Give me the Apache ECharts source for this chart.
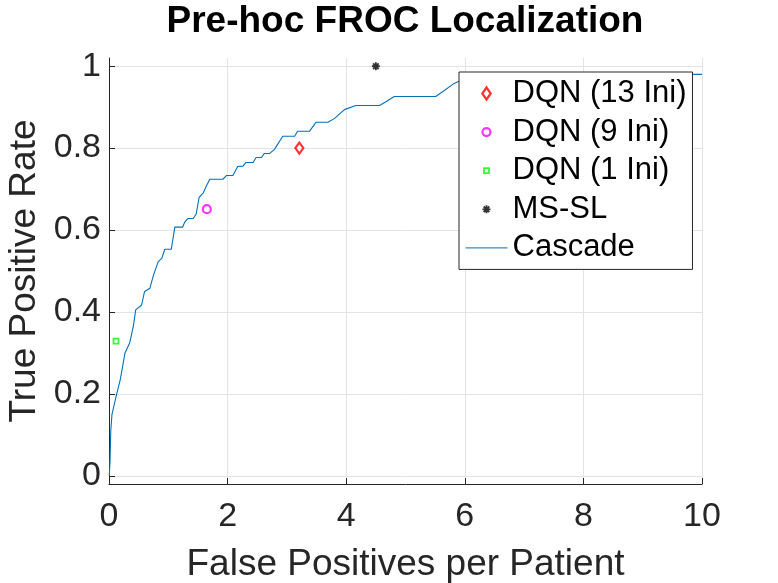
<!DOCTYPE html>
<html>
<head>
<meta charset="utf-8">
<script src="https://cdn.jsdelivr.net/npm/echarts@6/dist/echarts.min.js"></script>
<style>
  html, body { margin: 0; padding: 0; background: #fff; }
  #chart { width: 778px; height: 583px; }
</style>
</head>
<body>
<div id="chart"></div>
<script>
// ---- data ----
var xTicks = [0, 2, 4, 6, 8, 10];
var yTicks = [0, 0.2, 0.4, 0.6, 0.8, 1];

var cascadeX = [0.005, 0.017, 0.03, 0.05, 0.13, 0.19, 0.27, 0.35, 0.41, 0.45, 0.55, 0.60, 0.69, 0.75, 0.78, 0.83, 0.89, 0.94, 1.05, 1.11, 1.24, 1.28, 1.33, 1.42, 1.47, 1.52, 1.59, 1.64, 1.70, 1.92, 1.98, 2.09, 2.17, 2.26, 2.31, 2.43, 2.48, 2.57, 2.62, 2.71, 2.79, 2.93, 3.13, 3.18, 3.38, 3.49, 3.69, 3.80, 3.97, 4.16, 4.56, 4.67, 4.81, 5.51, 5.62, 5.82, 5.90, 6.30, 10];
var cascadeY = [0.0, 0.035, 0.11, 0.15, 0.20, 0.235, 0.30, 0.325, 0.365, 0.405, 0.417, 0.45, 0.458, 0.49, 0.49, 0.523, 0.531, 0.553, 0.553, 0.607, 0.607, 0.62, 0.628, 0.628, 0.639, 0.68, 0.691, 0.707, 0.724, 0.724, 0.733, 0.733, 0.755, 0.756, 0.765, 0.765, 0.777, 0.777, 0.787, 0.787, 0.797, 0.829, 0.829, 0.841, 0.841, 0.863, 0.863, 0.872, 0.894, 0.904, 0.904, 0.913, 0.926, 0.926, 0.937, 0.958, 0.963, 0.98, 0.98];

var dqn13 = [[3.21, 0.80]];
var dqn9  = [[1.65, 0.651]];
var dqn1  = [[0.118, 0.329]];
var mssl  = [[4.50, 1.00]];

var names = ['DQN (13 Ini)', 'DQN (9 Ini)', 'DQN (1 Ini)', 'MS-SL', 'Cascade'];

// ---- styles ----
var FONT = 'Liberation Sans, Arial, Helvetica, sans-serif';
var AX = '#262626';
var pad = 'M0,0 M14,14 ';
var iconDiamond = 'path://' + pad + 'M7,1 L11.2,7 L7,13 L2.8,7 Z';
var iconCircle = 'path://' + pad + 'M3,7 A4,4 0 1,1 11,7 A4,4 0 1,1 3,7 Z';
var iconSquare = 'path://' + pad + 'M4.5,4.5 L9.5,4.5 L9.5,9.5 L4.5,9.5 Z';
var iconStar = 'path://' + pad + 'M3,7 L11,7 M7,3 L7,11 M4.2,4.2 L9.8,9.8 M9.8,4.2 L4.2,9.8';
var starSym = 'path://M0,4 L8,4 M4,0 L4,8 M1.2,1.2 L6.8,6.8 M6.8,1.2 L1.2,6.8';

var cascade = cascadeX.map(function (x, i) { return [x, cascadeY[i]]; });

var chart = echarts.init(document.getElementById('chart'), null, { renderer: 'canvas' });
chart.setOption({
  animation: false,
  backgroundColor: '#fff',
  title: {
    text: 'Pre-hoc FROC Localization',
    left: 400, top: -2, textAlign: 'center',
    textStyle: { fontFamily: FONT, fontSize: 37, fontWeight: 'bold', color: '#000' }
  },
  grid: { left: 109, right: 76, top: 58, bottom: 99, containLabel: false, outerBoundsMode: 'none' },
  xAxis: {
    type: 'value', min: 0, max: 10, interval: 2,
    name: 'False Positives per Patient', nameLocation: 'middle', nameGap: 62,
    nameTextStyle: { fontFamily: FONT, fontSize: 37, color: AX },
    axisLine: { show: true, onZero: false, lineStyle: { color: AX, width: 1 } },
    axisTick: { show: true, inside: true, length: 6, lineStyle: { color: AX } },
    axisLabel: { fontFamily: FONT, fontSize: 34, color: AX, margin: 16 },
    splitLine: { show: true, lineStyle: { color: '#e3e3e3', width: 1 } }
  },
  yAxis: {
    type: 'value', min: -0.02, max: 1.02,
    name: 'True Positive Rate', nameLocation: 'middle', nameGap: 63,
    nameTextStyle: { fontFamily: FONT, fontSize: 37, color: AX },
    axisLine: { show: true, onZero: false, lineStyle: { color: AX, width: 1 } },
    axisTick: { show: true, inside: true, length: 6, lineStyle: { color: AX }, customValues: yTicks },
    axisLabel: { fontFamily: FONT, fontSize: 34, color: AX, margin: 8, customValues: yTicks },
    splitLine: { show: true, lineStyle: { color: '#e3e3e3', width: 1 } }
  },
  legend: {
    orient: 'vertical', left: 459, top: 72,
    padding: [6, 6, 6, 6], itemGap: 7.6, itemWidth: 42, itemHeight: 14,
    backgroundColor: '#fff', borderColor: AX, borderWidth: 1, borderRadius: 0,
    selectedMode: false,
    textStyle: { fontFamily: FONT, fontSize: 31, color: '#000' },
    data: [
      { name: names[0], icon: iconDiamond, itemStyle: { color: 'transparent', borderColor: '#ff0000', borderWidth: 2.2 } },
      { name: names[1], icon: iconCircle, itemStyle: { color: 'transparent', borderColor: '#ff00ff', borderWidth: 2.2 } },
      { name: names[2], icon: iconSquare, itemStyle: { color: 'transparent', borderColor: '#00ff00', borderWidth: 1.8 } },
      { name: names[3], icon: iconStar, itemStyle: { color: 'transparent', borderColor: '#000000', borderWidth: 1.8 } },
      { name: names[4], itemStyle: { opacity: 0 }, lineStyle: { color: '#0072BD', width: 1 } }
    ]
  },
  series: [
    { name: names[0], type: 'scatter', data: dqn13, symbol: 'diamond', symbolSize: [8, 11],
      itemStyle: { color: 'transparent', borderColor: '#ff0000', borderWidth: 2.2 }, z: 5 },
    { name: names[1], type: 'scatter', data: dqn9, symbol: 'circle', symbolSize: 8,
      itemStyle: { color: 'transparent', borderColor: '#ff00ff', borderWidth: 2.2 }, z: 5 },
    { name: names[2], type: 'scatter', data: dqn1, symbol: 'rect', symbolSize: 5,
      itemStyle: { color: 'transparent', borderColor: '#00ff00', borderWidth: 1.8 }, z: 5 },
    { name: names[3], type: 'scatter', data: mssl, symbol: starSym, symbolSize: 8,
      itemStyle: { color: 'transparent', borderColor: '#000000', borderWidth: 1.8 }, z: 5 },
    { name: names[4], type: 'line', data: cascade, symbol: 'none', showSymbol: false,
      lineStyle: { color: '#0072BD', width: 1.1 }, itemStyle: { color: '#0072BD' }, z: 3 }
  ]
});
</script>
</body>
</html>
